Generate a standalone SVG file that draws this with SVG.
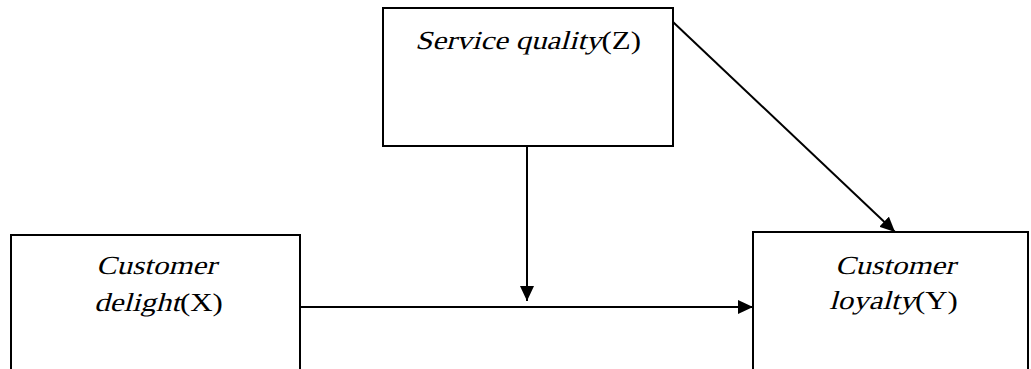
<svg xmlns="http://www.w3.org/2000/svg" width="1031" height="369" viewBox="0 0 1031 369">
<style>
.box{fill:#fff;stroke:#000;stroke-width:2}
.t{font-family:"Liberation Serif","Times New Roman",serif;font-size:26px;fill:#000}
.c{stroke:#000;stroke-width:2;fill:none}
</style>
<defs>
<marker id="ah" markerWidth="15" markerHeight="14" refX="15" refY="7" orient="auto" markerUnits="userSpaceOnUse">
<path d="M0,0 L15,7 L0,14 Z" fill="#000"/>
</marker>
</defs>
<g id="connectors">
<line class="c" x1="301" y1="307" x2="753" y2="307" marker-end="url(#ah)"/>
<line class="c" x1="527" y1="146" x2="527" y2="301" marker-end="url(#ah)"/>
<line class="c" x1="673" y1="22" x2="895" y2="232" marker-end="url(#ah)"/>
</g>
<g id="nodeZ">
<rect class="box" x="383" y="8" width="290" height="138"/>
<g transform="translate(415,49) scale(1.19,1)">
<text class="t" transform="skewX(-13)">Service quality</text>
<text class="t" x="156.7">(Z)</text>
</g>
</g>
<g id="nodeX">
<rect class="box" x="11" y="235" width="289" height="140"/>
<g transform="translate(96,274) scale(1.19,1)">
<text class="t" transform="skewX(-13)">Customer</text>
</g>
<g transform="translate(94,311) scale(1.19,1)">
<text class="t" transform="skewX(-13)">delight</text>
<text class="t" x="72.2">(X)</text>
</g>
</g>
<g id="nodeY">
<rect class="box" x="753" y="232" width="275" height="143"/>
<g transform="translate(835,274) scale(1.19,1)">
<text class="t" transform="skewX(-13)">Customer</text>
</g>
<g transform="translate(829,309) scale(1.19,1)">
<text class="t" transform="skewX(-13)">loyalty</text>
<text class="t" x="72.2">(Y)</text>
</g>
</g>
</svg>
